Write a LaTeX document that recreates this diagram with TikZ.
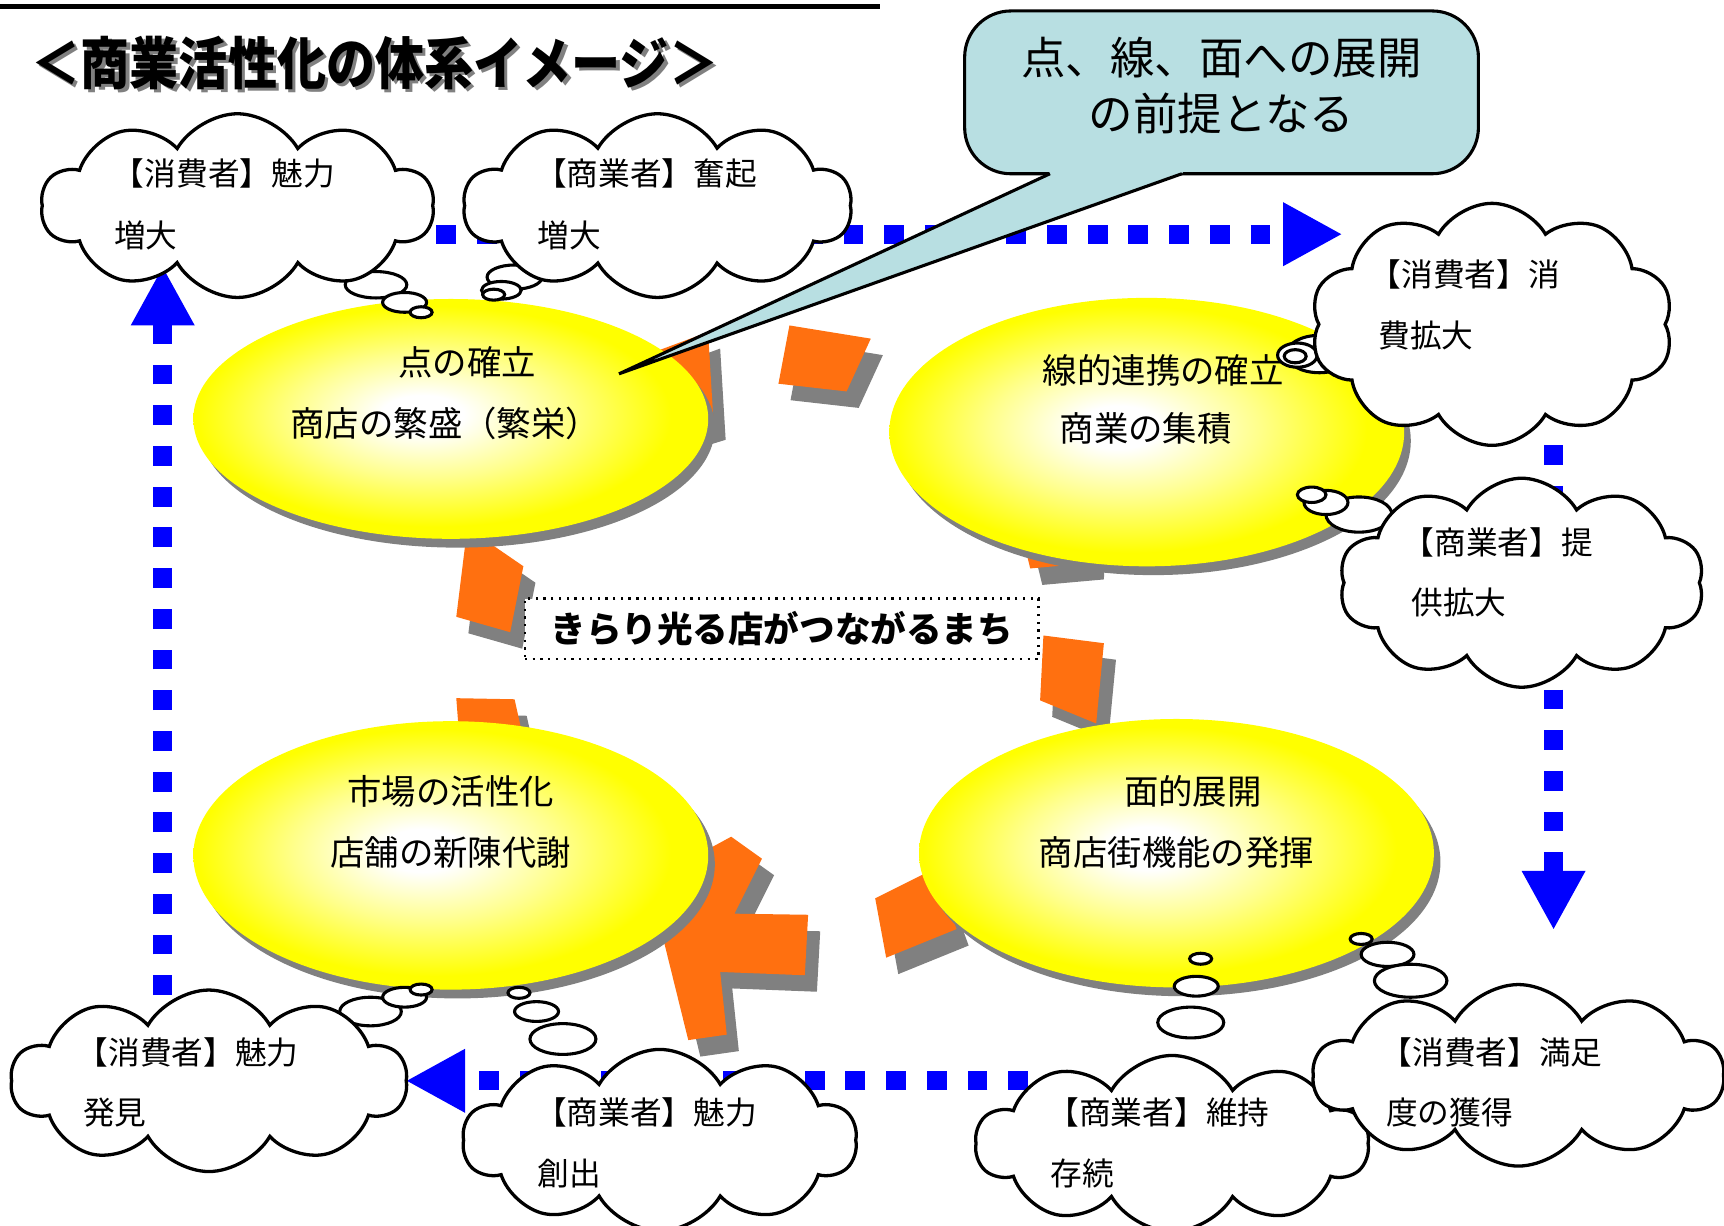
\documentclass[tikz,border=0pt]{standalone}
\usepackage{fontspec}
\setmainfont{Noto Sans CJK JP}
\usetikzlibrary{shapes.symbols,shapes.geometric,arrows.meta,shadows}
\definecolor{orng}{HTML}{FF7010}
\definecolor{shd}{HTML}{808080}
\definecolor{calbl}{HTML}{B8DFE2}
\definecolor{blu}{HTML}{0000FF}
\pgfdeclareradialshading{glow}{\pgfpoint{-3bp}{1bp}}{color(0bp)=(white); color(4bp)=(white); color(13bp)=(yellow!45!white); color(23bp)=(yellow); color(50bp)=(yellow)}
\begin{document}
\begin{tikzpicture}[x=0.01cm,y=-0.01cm,
  bluedot/.style={draw=blu,line width=0.17cm,dash pattern=on 0.18cm off 0.19cm,-{Triangle[length=0.54cm,width=0.54cm]}},
  bigell/.style={ellipse,shade,shading=glow,inner sep=0,
     drop shadow={shadow xshift=0.06cm,shadow yshift=-0.08cm,fill=shd,opacity=1}},
  etext/.style={inner sep=0,font=\fontsize{8.9}{10}\selectfont},
  ctext/.style={anchor=west,inner sep=0,font=\fontsize{8.2}{10}\selectfont},
  cloudb/.style={cloud,cloud puffs=10,cloud puff arc=120,cloud ignores aspect,draw,fill=white,line width=0.85pt,inner sep=0},
  bub/.style={draw,fill=white,line width=0.8pt},
  piecesh/.style={fill=shd,shift={(11,15)}},
  piece/.style={fill=orng},
  titletext/.style={inner sep=0,font=\fontsize{12.7}{14}\selectfont\bfseries}
]
\clip (0,0) rectangle (1568,1115);
\fill[white] (0,0) rectangle (1568,1115);

% top rule
\draw[line width=0.05cm] (0,6) -- (800,6);

% title
\node[titletext,text=shd] (titlesh) at (344,60) {\scalebox{1}[1.15]{＜商業活性化の体系イメージ＞}};
\node[titletext] (title) at (341,57) {\scalebox{1}[1.15]{＜商業活性化の体系イメージ＞}};

% dotted arrows
\coordinate (ta) at (397,213);  \coordinate (tb) at (1221,213);
\coordinate (ra) at (1413,405); \coordinate (rb) at (1413,846);
\coordinate (ba) at (935,983);  \coordinate (bb) at (369,983);
\coordinate (la) at (148,905);  \coordinate (lb) at (148,242);
\draw[bluedot] (ta) -- (tb);
\draw[bluedot] (ra) -- (rb);
\draw[bluedot] (ba) -- (bb);
\draw[bluedot] (la) -- (lb);

% orange ring pieces (shadows first)
\foreach \p in {
  {(590,322)--(644,302)--(649,385)--(600,400)--cycle},
  {(718,296)--(792,308)--(770,356)--(708,349)--cycle},
  {(925,468)--(995,463)--(993,512)--(937,517)--cycle},
  {(949,578)--(1004,585)--(997,658)--(946,637)--cycle},
  {(796,817)--(850,790)--(870,845)--(806,871)--cycle},
  {(665,761)--(693,781)--(668,831)--(735,832)--(732,887)--(655,884)--(661,941)--(626,946)--(605,861)--(595,820)--(630,780)--cycle},
  {(415,635)--(468,636)--(476,672)--(418,674)--cycle},
  {(425,480)--(476,515)--(464,575)--(415,561)--cycle}}
  {\fill[piecesh] \p;}
\foreach \p in {
  {(590,322)--(644,302)--(649,385)--(600,400)--cycle},
  {(718,296)--(792,308)--(770,356)--(708,349)--cycle},
  {(925,468)--(995,463)--(993,512)--(937,517)--cycle},
  {(949,578)--(1004,585)--(997,658)--(946,637)--cycle},
  {(796,817)--(850,790)--(870,845)--(806,871)--cycle},
  {(665,761)--(693,781)--(668,831)--(735,832)--(732,887)--(655,884)--(661,941)--(626,946)--(605,861)--(595,820)--(630,780)--cycle},
  {(415,635)--(468,636)--(476,672)--(418,674)--cycle},
  {(425,480)--(476,515)--(464,575)--(415,561)--cycle}}
  {\fill[piece] \p;}

% ellipses
\node[bigell,minimum width=4.68cm,minimum height=2.18cm] (e1) at (410,381) {};
\node[bigell,minimum width=4.68cm,minimum height=2.44cm] (e2) at (1043,393) {};
\node[bigell,minimum width=4.68cm,minimum height=2.44cm] (e3) at (410,778) {};
\node[bigell,minimum width=4.68cm,minimum height=2.44cm] (e4) at (1070,776) {};
\node[etext] (e1a) at (425,330) {点の確立};
\node[etext] (e1b) at (405,385) {商店の繁盛（繁栄）};
\node[etext] (e2a) at (1058,337) {線的連携の確立};
\node[etext] (e2b) at (1042,390) {商業の集積};
\node[etext] (e3a) at (410,720) {市場の活性化};
\node[etext] (e3b) at (410,775) {店舗の新陳代謝};
\node[etext] (e4a) at (1085,720) {面的展開};
\node[etext] (e4b) at (1070,775) {商店街機能の発揮};

% central text box
\node[draw,fill=white,line width=0.6pt,dash pattern=on 0.6pt off 1.4pt,minimum width=4.67cm,minimum height=0.55cm,inner sep=0,
  font=\fontsize{9.2}{11}\selectfont\bfseries] (kb) at (711,572) {きらり光る店がつながるまち};

% thought bubbles
\draw[bub] (342,259) ellipse (28 and 12);
\draw[bub] (368,275) ellipse (20 and 9);
\draw[bub] (383,284) ellipse (10 and 5);
\draw[bub] (468,252) ellipse (25 and 11);
\draw[bub] (456,264) ellipse (18 and 8);
\draw[bub] (449,268) ellipse (10 and 5);
\draw[bub] (1200,322) ellipse (30 and 17);
\draw[bub] (1180,323) ellipse (18 and 11);
\draw[bub] (1178,324) ellipse (10 and 6);
\draw[bub] (1236,468) ellipse (30 and 16);
\draw[bub] (1206,457) ellipse (20 and 11);
\draw[bub] (1193,450) ellipse (13 and 7);
\draw[bub] (337,920) ellipse (28 and 13);
\draw[bub] (368,907) ellipse (20 and 9);
\draw[bub] (383,900) ellipse (10 and 5);
\draw[bub] (472,903) ellipse (10 and 5);
\draw[bub] (488,920) ellipse (20 and 9);
\draw[bub] (512,945) ellipse (30 and 14);
\draw[bub] (1092,872) ellipse (10 and 5);
\draw[bub] (1088,897) ellipse (20 and 9);
\draw[bub] (1083,930) ellipse (30 and 14);
\draw[bub] (1238,854) ellipse (10 and 5);
\draw[bub] (1262,868) ellipse (24 and 11);
\draw[bub] (1283,892) ellipse (33 and 15);

% clouds
\node[cloudb,minimum width=3.57cm,minimum height=1.67cm] (c1) at (216,187) {};
\node[cloudb,minimum width=3.53cm,minimum height=1.67cm] (c2) at (598,187) {};
\node[cloudb,minimum width=3.30cm,minimum height=2.20cm] (c3) at (1357,295) {};
\node[cloudb,minimum width=3.32cm,minimum height=1.90cm] (c4) at (1384,530) {};
\node[cloudb,minimum width=3.60cm,minimum height=1.65cm] (c5) at (190,983) {};
\node[cloudb,minimum width=3.58cm,minimum height=1.65cm] (c6) at (600,1037) {};
\node[cloudb,minimum width=3.57cm,minimum height=1.60cm] (c7) at (1066,1040) {};
\node[cloudb,minimum width=3.73cm,minimum height=1.65cm] (c8) at (1381,978) {};

\node[ctext] (c1a) at (102,158) {【消費者】魅力};
\node[ctext] (c1b) at (103,214) {増大};
\node[ctext] (c2a) at (486,158) {【商業者】奮起};
\node[ctext] (c2b) at (488,214) {増大};
\node[ctext] (c3a) at (1245,250) {【消費者】消};
\node[ctext] (c3b) at (1253,305) {費拡大};
\node[ctext] (c4a) at (1275,493) {【商業者】提};
\node[ctext] (c4b) at (1283,548) {供拡大};
\node[ctext] (c5a) at (69,957) {【消費者】魅力};
\node[ctext] (c5b) at (75,1012) {発見};
\node[ctext] (c6a) at (486,1012) {【商業者】魅力};
\node[ctext] (c6b) at (488,1067) {創出};
\node[ctext] (c7a) at (952,1012) {【商業者】維持};
\node[ctext] (c7b) at (955,1067) {存続};
\node[ctext] (c8a) at (1255,957) {【消費者】満足};
\node[ctext] (c8b) at (1260,1012) {度の獲得};

% callout
\node[draw,fill=calbl,line width=0.8pt,rounded corners=0.42cm,minimum width=4.67cm,minimum height=1.48cm,inner sep=0] (co) at (1111,84) {};
\coordinate (tip) at (563,340);
\coordinate (tl) at (955,158);
\coordinate (tr) at (1075,158);
\fill[calbl] (950,150) -- (tl) -- (tip) -- (tr) -- (1080,150) -- cycle;
\draw[line width=0.8pt,line join=miter] (tl) -- (tip) -- (tr);
\node[inner sep=0,align=center,font=\fontsize{11.5}{14.5}\selectfont] (cot) at (1111,78) {点、線、面への展開\\の前提となる};
\end{tikzpicture}
\end{document}
